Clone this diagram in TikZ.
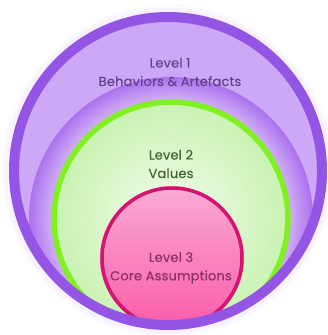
\documentclass[tikz,border=0pt]{standalone}
\usepackage{fontspec}
\setmainfont{Poppins}
\newfontfamily\lblfont{Poppins}[FakeBold=0.6,LetterSpace=1.5]
\begin{document}
\definecolor{ringpurple}{RGB}{148,84,228}
\definecolor{lavender}{RGB}{204,168,246}
\definecolor{lavdark}{RGB}{172,114,238}
\definecolor{halo}{RGB}{236,222,252}
\definecolor{ringgreen}{RGB}{128,240,32}
\definecolor{greenpale}{RGB}{244,252,240}
\definecolor{greenfill}{RGB}{200,242,176}
\definecolor{pinktop}{RGB}{248,172,212}
\definecolor{pinkmid}{RGB}{246,128,194}
\definecolor{pinkbot}{RGB}{252,90,170}
\definecolor{ringpink}{RGB}{212,20,110}
\definecolor{txtone}{RGB}{104,68,140}
\definecolor{txttwo}{RGB}{66,104,54}
\definecolor{txtthree}{RGB}{140,50,104}
\begin{tikzpicture}[x=1pt,y=-1pt,
  label/.style={align=center,font=\lblfont\fontsize{13}{18.5}\selectfont,inner sep=0pt}]
\useasboundingbox (0,0) rectangle (328,335);
% centres of the three levels
\coordinate (c1) at (168,171);
\coordinate (c2) at (171,219);
\coordinate (c3) at (172,258);
% soft glow round the outer circle
\foreach \r/\o in {166/0.15,163/0.3}
  \fill[halo,opacity=\o] (c1) circle (\r);
% level 1 disk
\fill[lavender] (c1) circle (156);
\begin{scope}
  \clip (c1) circle (150);
  % darker band hugging the level 2 circle
  \foreach \i in {0,...,20}{
    \pgfmathsetmacro{\mix}{100-5*\i}
    \fill[lavdark!\mix!lavender] (c2) circle ({142-\i});
  }
  % level 2 disk
  \shade[inner color=greenpale,outer color=greenfill] (c2) circle (119);
  \draw[ringgreen,line width=5.5] (c2) circle (117);
  % level 3 disk
  \shade[top color=pinktop,middle color=pinkmid,bottom color=pinkbot] (c3) circle (72);
  \draw[ringpink,line width=3.5] (c3) circle (70);
\end{scope}
% outer ring on top
\draw[ringpurple,line width=10] (c1) circle (154);
% labels
\node[label,text=txtone] (t1) at (170,72) {Level 1\\Behaviors \& Artefacts};
\node[label,text=txttwo] (t2) at (171,164) {Level 2\\Values};
\node[label,text=txtthree] (t3) at (171,268) {Level 3\\Core Assumptions};
\end{tikzpicture}
\end{document}
